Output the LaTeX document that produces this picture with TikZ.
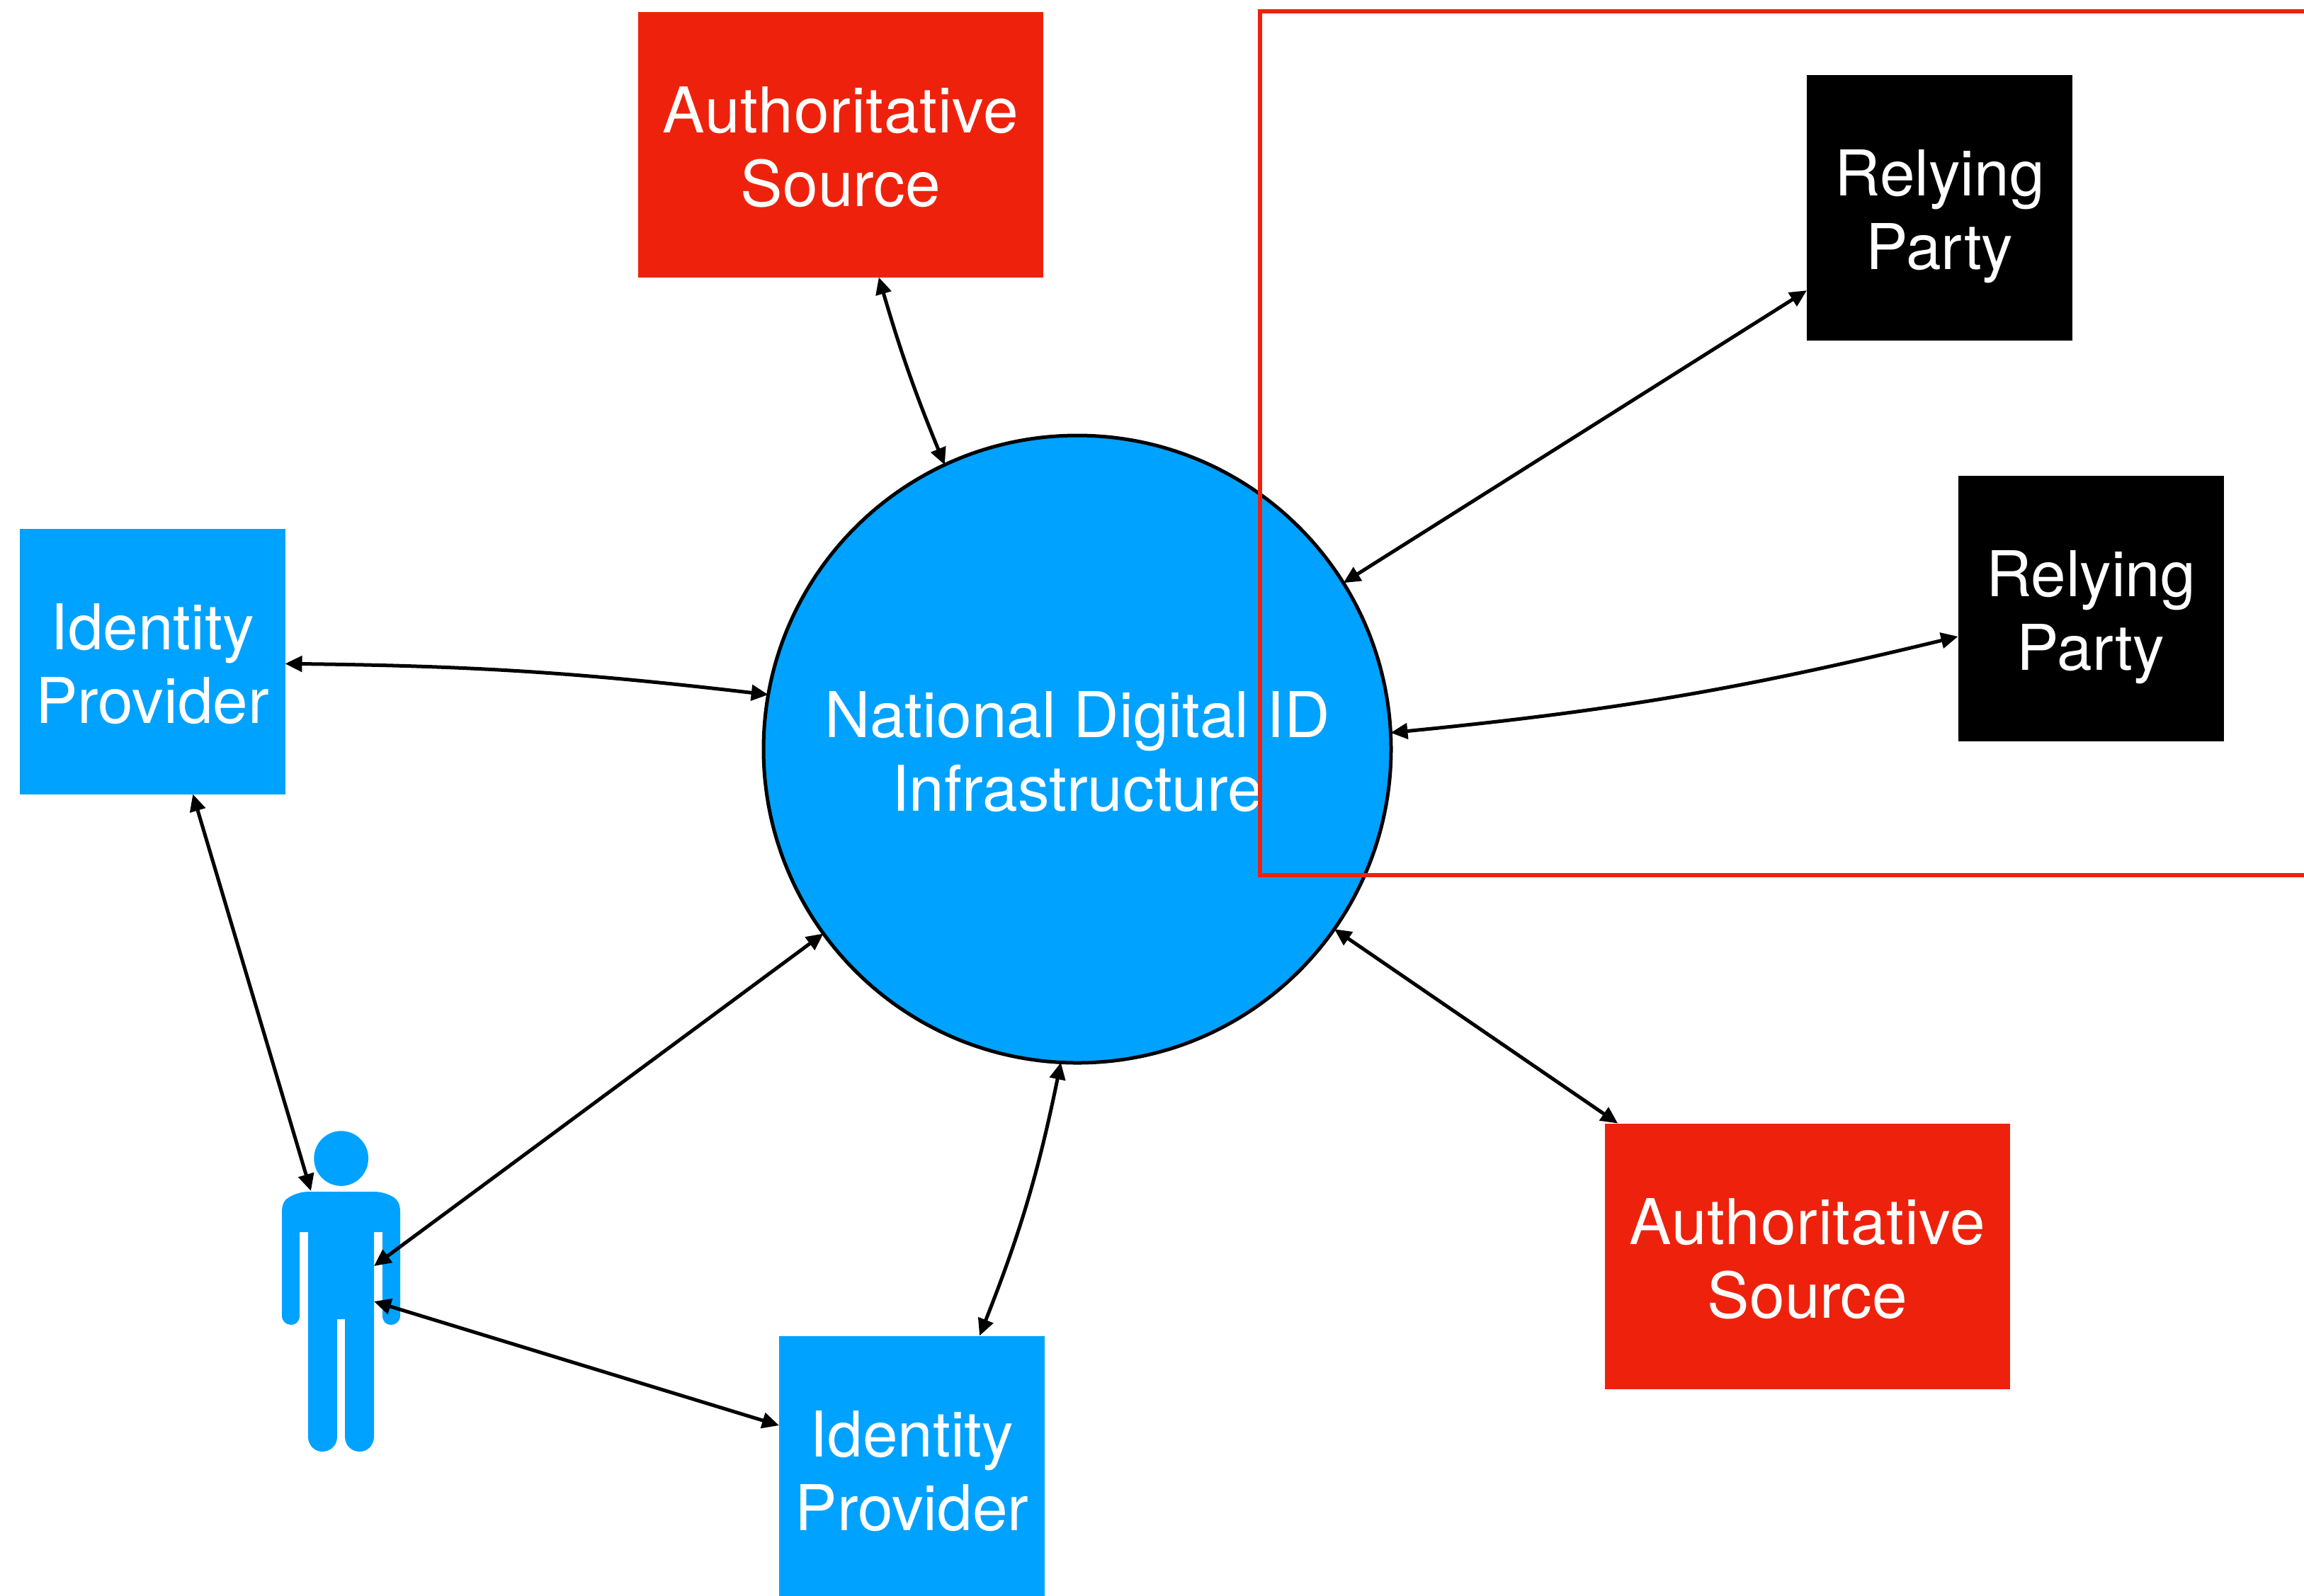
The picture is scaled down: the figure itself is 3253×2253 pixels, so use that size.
\documentclass[tikz,border=0pt]{standalone}
\usepackage{fontspec}
\setmainfont{TeX Gyre Heros}
\usetikzlibrary{arrows.meta}
\definecolor{ablue}{HTML}{00A2FF}
\definecolor{ared}{HTML}{EE220C}
\newcommand{\twolines}[2]{\rule{0pt}{25.4pt}#1\\\strut #2}
\newcommand{\authword}{{\addfontfeature{LetterSpace=0.9}Authoritative}}
\tikzset{
  x=0.25pt,y=-0.25pt,
  boxfont/.style={text=white,align=center,font=\fontsize{22.3}{26}\selectfont},
  box/.style={rectangle,inner sep=0pt,outer sep=0pt,boxfont},
  bluebox/.style={box,fill=ablue,minimum width=93.75pt,minimum height=93.75pt},
  blackbox/.style={box,fill=black,minimum width=93.75pt,minimum height=93.75pt},
  redbox/.style={box,fill=ared,minimum width=143pt,minimum height=93.75pt},
  link/.style={line width=1.25pt,black,{Triangle[length=6pt,width=5.5pt]}-{Triangle[length=6pt,width=5.5pt]}},
}
\begin{document}
\begin{tikzpicture}
\useasboundingbox (0,0) rectangle (3253,2253);
\node[circle,draw=black,fill=ablue,line width=1.25pt,inner sep=0pt,outer sep=0pt,minimum size=221.5pt,boxfont] (c) at (1521,1058) {\twolines{National Digital ID}{Infrastructure}};
\node[redbox] (as1) at (1187,204) {\twolines{\authword}{Source}};
\node[blackbox] (rp1) at (2738.5,293) {\twolines{Relying}{Party}};
\node[blackbox] (rp2) at (2952,859) {\twolines{Relying}{Party}};
\node[bluebox] (id1) at (215,934) {\twolines{Identity}{Provider}};
\node[redbox] (as2) at (2552,1774) {\twolines{\authword}{Source}};
\node[bluebox] (id2) at (1287.5,2074) {\twolines{Identity}{Provider}};
\draw[ared,line width=1.3pt] (3300,16) -- (1779,16) -- (1779,1236) -- (3300,1236);
% person
\fill[ablue] (481.7,1636) ellipse [x radius=9.6pt,y radius=9.7pt];
\fill[ablue] (398,1712) .. controls (398,1700) and (402,1694) .. (408,1691)
  .. controls (416,1686) and (426,1683) .. (436,1683) -- (528,1683)
  .. controls (538,1683) and (548,1686) .. (556,1691)
  .. controls (562,1695) and (565,1701) .. (565,1712)
  -- (565,1858) .. controls (565,1866) and (559,1871) .. (552,1871)
  .. controls (545,1871) and (540,1866) .. (540,1858)
  -- (540,1740) -- (528,1740) -- (528,2029)
  .. controls (528,2041) and (519,2050) .. (508,2050)
  .. controls (496,2050) and (487,2041) .. (487,2029)
  -- (487,1863) -- (476,1863) -- (476,2029)
  .. controls (476,2041) and (467,2050) .. (455,2050)
  .. controls (444,2050) and (435,2041) .. (435,2029)
  -- (435,1740) -- (423,1740) -- (423,1858)
  .. controls (423,1866) and (418,1871) .. (411,1871)
  .. controls (404,1871) and (398,1866) .. (398,1858) -- cycle;
\coordinate (pa) at (439,1682);
\coordinate (pb) at (528,1788);
\coordinate (pc) at (528,1838);
% connectors
\draw[link] (as1.286) to[bend right=3] (c.115.2);
\draw[link] (rp1.212.5) -- (c.32.2);
\draw[link] (rp2.192.9) to[bend left=4] (c.3.9);
\draw[link] (id1.359.2) to[bend left=3] (c.170.3);
\draw[link] (id1.287.4) -- (pa);
\draw[link] (pb) -- (c.216.6);
\draw[link] (pc) -- (id2.162.7);
\draw[link] (c.267.6) to[bend left=5] (id2.63.1);
\draw[link] (c.325.1) -- (as2.145.5);
\end{tikzpicture}
\end{document}
